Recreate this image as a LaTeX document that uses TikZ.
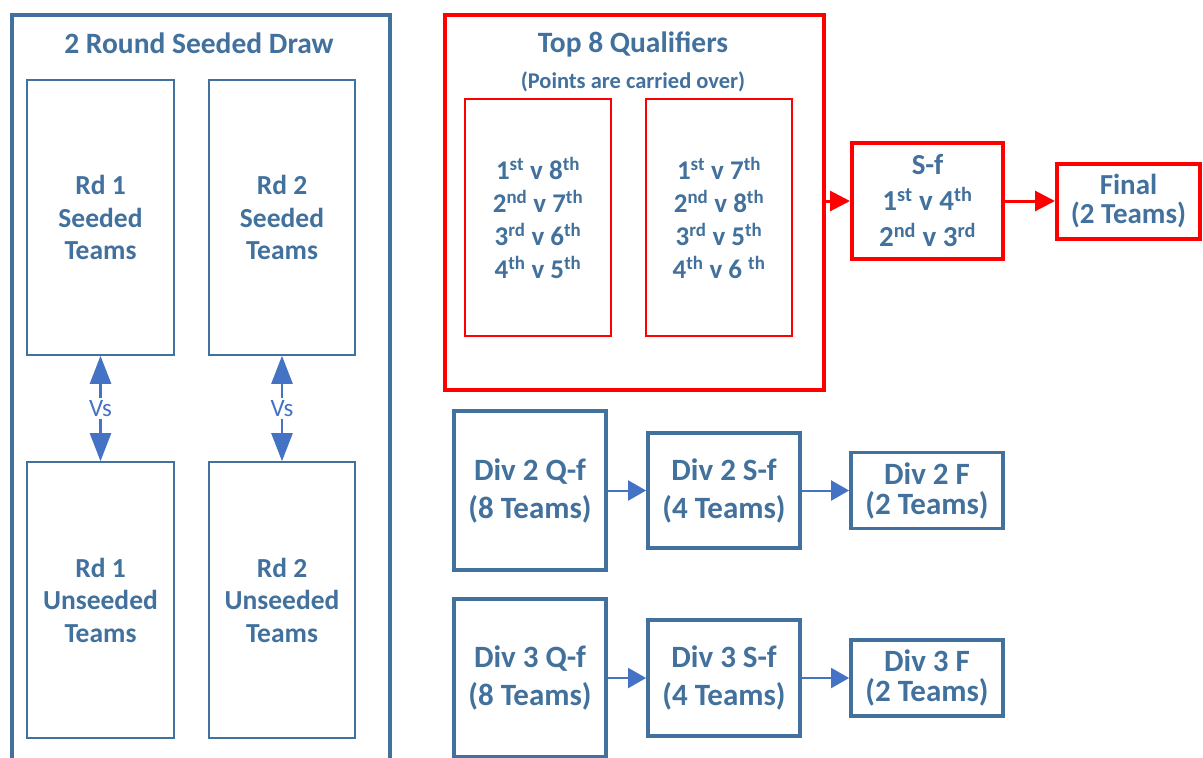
\documentclass[tikz,border=0pt]{standalone}
\usepackage{fontspec}
\setmainfont{Carlito}
\usetikzlibrary{arrows.meta}
\definecolor{tb}{HTML}{41719C}
\definecolor{ab}{HTML}{4472C4}
\newcommand{\fs}[2]{\fontsize{#1}{#2}\selectfont}
\newcommand{\su}[1]{\textsuperscript{#1}}
\begin{document}
\begin{tikzpicture}[x=1pt,y=-1pt,
  box/.style={draw=tb, rectangle, inner sep=0pt, text=tb, align=center},
  thinbox/.style={box, line width=1.6pt, font=\bfseries\fs{27.5}{32.5}},
  thickbox/.style={box, line width=3.8pt, font=\bfseries\fs{31}{38}},
  redthin/.style={box, draw=red, line width=1.6pt, font=\bfseries\fs{27}{33}},
  redthick/.style={box, draw=red, line width=4pt, font=\bfseries\fs{29}{30}},
  title/.style={text=tb, inner sep=0pt, font=\bfseries\fs{29.5}{30}},
  vslabel/.style={fill=white, text=ab, font=\fs{25}{25}, inner sep=2pt},
  vsarrow/.style={draw=ab, line width=2.5pt, {Triangle[length=28pt,width=21pt]}-{Triangle[length=28pt,width=21pt]}},
  redarrow/.style={draw=red, line width=3pt, -{Triangle[length=20pt,width=20pt]}},
  bluearrow/.style={draw=ab, line width=2pt, -{Triangle[length=18pt,width=20pt]}}]
\useasboundingbox (0,0) rectangle (1203,758);
\clip (0,0) rectangle (1203,758);
\fill[white] (0,0) rectangle (1203,758);

% left seeded draw
\node[box, line width=3.8pt, anchor=north west, minimum width=378, minimum height=800] (draw) at (10,13) {};
\node[title] (drawtitle) at (199,43) {2 Round Seeded Draw};
\node[thinbox, minimum width=147, minimum height=275] (r1s) at (100.5,217.5) {Rd 1\\Seeded\\Teams};
\node[thinbox, minimum width=146, minimum height=275] (r2s) at (282,217.5) {Rd 2\\Seeded\\Teams};
\node[thinbox, minimum width=147, minimum height=276] (r1u) at (100.5,600) {Rd 1\\Unseeded\\Teams};
\node[thinbox, minimum width=146, minimum height=276] (r2u) at (282,600) {Rd 2\\Unseeded\\Teams};
\draw[vsarrow] (r1s.south) -- node[vslabel] (vs1) {Vs} (r1u.north);
\draw[vsarrow] (r2s.south) -- node[vslabel] (vs2) {Vs} (r2u.north);

% top 8
\node[redthick, anchor=north west, minimum width=379, minimum height=375] (top) at (443,13) {};
\node[title] (toptitle) at (633,44) {Top 8 Qualifiers};
\node[title, font=\bfseries\fs{22.5}{24}] (topsub) at (633,82) {(Points are carried over)};
\node[redthin, minimum width=146, minimum height=237] (q1) at (538,217.5)
  {1\su{st} v 8\su{th}\\2\su{nd} v 7\su{th}\\3\su{rd} v 6\su{th}\\4\su{th} v 5\su{th}};
\node[redthin, minimum width=146, minimum height=237] (q2) at (719,217.5)
  {1\su{st} v 7\su{th}\\2\su{nd} v 8\su{th}\\3\su{rd} v 5\su{th}\\4\su{th} v 6 \su{th}};
\node[redthick, minimum width=151, minimum height=116, font=\bfseries\fs{29}{36}] (sf) at (927.5,201)
  {S-f\\1\su{st} v 4\su{th}\\2\su{nd} v 3\su{rd}};
\node[redthick, minimum width=143, minimum height=75, font=\bfseries\fs{29}{29}] (final) at (1128.5,201)
  {Final\\(2 Teams)};
\draw[redarrow] (top.east |- sf.west) -- (sf.west);
\draw[redarrow] (sf.east) -- (final.west);

% div 2
\node[thickbox, minimum width=152, minimum height=159] (d2q) at (530,490.5) {Div 2 Q-f\\(8 Teams)};
\node[thickbox, minimum width=152, minimum height=115] (d2s) at (724,490.5) {Div 2 S-f\\(4 Teams)};
\node[thickbox, minimum width=152, minimum height=76, font=\bfseries\fs{31}{30}] (d2f) at (927,490.5) {Div 2 F\\(2 Teams)};
\draw[bluearrow] (d2q.east) -- (d2s.west);
\draw[bluearrow] (d2s.east) -- (d2f.west);

% div 3
\node[thickbox, minimum width=152, minimum height=158] (d3q) at (530,678) {Div 3 Q-f\\(8 Teams)};
\node[thickbox, minimum width=152, minimum height=116] (d3s) at (724,678) {Div 3 S-f\\(4 Teams)};
\node[thickbox, minimum width=152, minimum height=76, font=\bfseries\fs{31}{30}] (d3f) at (927,678) {Div 3 F\\(2 Teams)};
\draw[bluearrow] (d3q.east) -- (d3s.west);
\draw[bluearrow] (d3s.east) -- (d3f.west);
\end{tikzpicture}
\end{document}
